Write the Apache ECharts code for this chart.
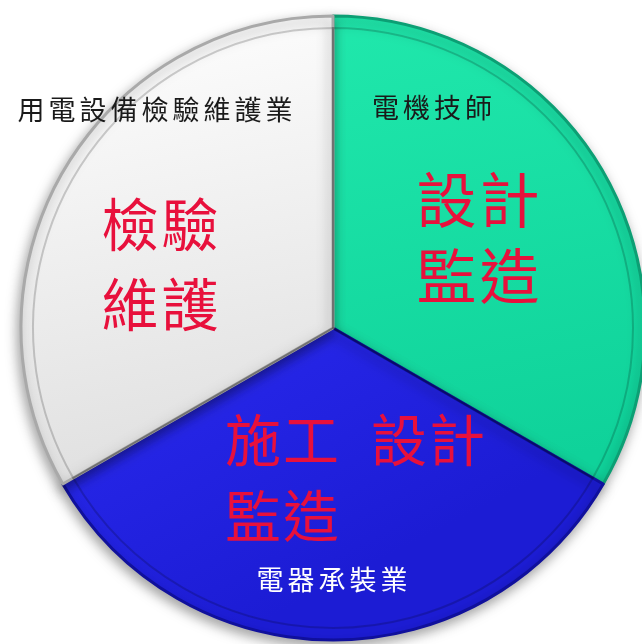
<!DOCTYPE html>
<html>
<head>
<meta charset="utf-8">
<script src="https://cdn.jsdelivr.net/npm/echarts@6/dist/echarts.min.js"></script>
<style>
html,body{margin:0;padding:0;background:#fff;}
#chart{width:642px;height:644px;}
</style>
</head>
<body>
<div id="chart"></div>
<script>
// ---- data ----
const categories = ['電機技師', '電器承裝業', '用電設備檢驗維護業'];
const shares = [1, 1, 1];
const roles = ['設計\n監造', '施工 設計\n監造', '檢驗\n維護'];

// ---- styling ----
const fills = [
  ['#20e8ac', '#0fd29a'],
  ['#2a2af0', '#1c1cd4'],
  ['#ffffff', '#e0e0e0']
];
const borders = ['#0c9f74', '#10109c', '#a9a9a9'];
const nameColors = ['#1a1a1a', '#ffffff', '#1a1a1a'];
const roleSizes = [60, 56, 57];
const rolePitch = [63, 58, 60];
const roleLineH = [76, 76, 80];
// label placement (layout only)
const rolePlace = [
  {x: 478, y: 238, align: 'center'},
  {x: 225, y: 478, align: 'left'},
  {x: 160, y: 264, align: 'center'}
];
const namePlace = [
  {x: 432, y: 108},
  {x: 332, y: 580},
  {x: 155, y: 110}
];

const FONT = '"Noto Sans CJK TC", "Noto Sans CJK SC", sans-serif';
const CENTER = [333, 328];
const R = 312;

function grad(c) {
  return new echarts.graphic.LinearGradient(0, 0, 0.3, 1, [
    {offset: 0, color: c[0]}, {offset: 1, color: c[1]}
  ]);
}

function tokens(str) {
  return str.split('\n').map(line =>
    line.split('').map(c => c === ' ' ? '{s| }' : '{r|' + c + '}').join('')
  ).join('\n');
}

const baseData = categories.map((n, i) => ({
  name: n,
  value: shares[i],
  itemStyle: {color: grad(fills[i]), borderColor: borders[i]},
  label: {
    align: rolePlace[i].align,
    rich: {
      r: {width: rolePitch[i], align: rolePlace[i].align, fontSize: roleSizes[i], lineHeight: roleLineH[i],
          color: '#e8103c', fontFamily: FONT},
      s: {width: 30, align: rolePlace[i].align, fontSize: roleSizes[i], lineHeight: roleLineH[i]}
    }
  }
}));

const nameData = categories.map((n, i) => ({
  name: n,
  value: shares[i],
  label: {color: nameColors[i]}
}));

const option = {
  animation: false,
  series: [
    {
      type: 'pie',
      center: CENTER,
      radius: [0, R],
      startAngle: 90,
      clockwise: true,
      silent: true,
      avoidLabelOverlap: false,
      itemStyle: {
        borderWidth: 3,
        shadowBlur: 12,
        shadowOffsetX: -2,
        shadowOffsetY: 5,
        shadowColor: 'rgba(0,0,0,0.35)'
      },
      label: {
        show: true,
        position: 'inside',
        formatter: p => tokens(roles[p.dataIndex]),
        color: '#e8103c',
        fontFamily: FONT
      },
      labelLayout: p => ({
        x: rolePlace[p.dataIndex].x,
        y: rolePlace[p.dataIndex].y,
        align: rolePlace[p.dataIndex].align,
        verticalAlign: 'middle'
      }),
      data: baseData
    },
    {
      // inner bevel line
      type: 'pie',
      center: CENTER,
      radius: [0, R - 12],
      startAngle: 90,
      silent: true,
      itemStyle: {
        color: 'rgba(0,0,0,0)',
        borderColor: 'rgba(0,0,0,0.18)',
        borderWidth: 2
      },
      label: {show: false},
      data: shares.map((v, i) => ({name: categories[i], value: v}))
    },
    {
      // category names
      type: 'pie',
      center: CENTER,
      radius: [0, R],
      startAngle: 90,
      silent: true,
      avoidLabelOverlap: false,
      itemStyle: {color: 'rgba(0,0,0,0)', borderWidth: 0},
      label: {
        show: true,
        position: 'inside',
        fontFamily: FONT,
        overflow: 'none',
        formatter: p => p.name.split('').map(c => '{c|' + c + '}').join(''),
        rich: {c: {width: 31, align: 'center', fontSize: 27, fontFamily: FONT}}
      },
      labelLayout: p => ({
        x: namePlace[p.dataIndex].x,
        y: namePlace[p.dataIndex].y,
        align: 'center',
        verticalAlign: 'middle'
      }),
      data: nameData
    }
  ]
};

const chart = echarts.init(document.getElementById('chart'), null, {renderer: 'canvas'});
chart.setOption(option);
</script>
</body>
</html>
